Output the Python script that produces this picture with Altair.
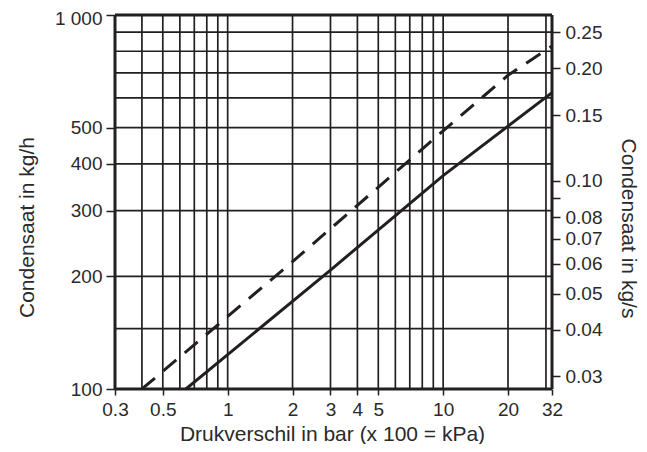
import altair as alt
import pandas as pd

# ---- data ----
grid_x = [0.4, 0.5, 0.6, 0.7, 0.8, 0.9, 1, 2, 3, 4, 5, 6, 7, 8, 9, 10, 20, 30]
grid_y = [145, 200, 300, 400, 500, 600, 700, 800, 900]
frame_x = [0.3, 32]
frame_y = [100, 1000]
x_ticks = [0.3, 0.5, 1, 2, 3, 4, 5, 10, 20, 32]
y_ticks = [100, 200, 300, 400, 500, 1000]
kgs_ticks = [0.03, 0.04, 0.05, 0.06, 0.07, 0.08, 0.09, 0.10, 0.15, 0.20, 0.25]

solid_x = [0.64, 3, 10, 32]
solid_y = [100, 208, 372, 620]
dashed_x = [0.4, 2, 10, 20, 32]
dashed_y = [100, 219, 490, 690, 826]

INK = "#231f20"
TXT = "#2a2a2a"
FONT = "Liberation Sans"
LBL = 19

x_scale = alt.Scale(type="log", domain=[0.3, 32], nice=False)
y_scale = alt.Scale(type="log", domain=[100, 1000], nice=False)
y2_scale = alt.Scale(type="log", domain=[100 / 3600, 1000 / 3600], nice=False)

x_axis = alt.Axis(
    values=x_ticks, format="~g", grid=False, domain=False,
    tickSize=6, tickWidth=1.5, tickColor=INK,
    labelFontSize=LBL, labelFont=FONT, labelColor=TXT, labelPadding=5,
    labelOverlap=False, labelFlush=False,
    title="Drukverschil in bar (x 100 = kPa)", titleFont=FONT, titleFontSize=21,
    titleFontWeight="normal", titleColor=TXT, titleX=217, titleY=51,
    titleAlign="center", titleBaseline="alphabetic",
)
y_axis = alt.Axis(
    orient="left", values=y_ticks,
    labelExpr="datum.value == 1000 ? '1 000' : format(datum.value, 'd')",
    labelOffset={"condition": {"test": "datum.value == 1000", "value": 3}, "value": 0},
    grid=False, domain=False, tickSize=9, tickWidth=1.5, tickColor=INK,
    labelFontSize=LBL, labelFont=FONT, labelColor=TXT, labelPadding=4,
    labelOverlap=False, labelFlush=False,
    title="Condensaat in kg/h", titleFont=FONT, titleFontSize=21,
    titleFontWeight="normal", titleColor=TXT, titleAngle=-90,
    titleX=-82, titleY=212, titleAlign="center", titleBaseline="alphabetic",
)
y2_axis = alt.Axis(
    orient="right", values=kgs_ticks,
    labelExpr="abs(datum.value - 0.09) < 1e-9 ? '' : format(datum.value, '.2f')",
    grid=False, domain=False, tickSize=8, tickWidth=1.5, tickColor=INK,
    labelFontSize=LBL, labelFont=FONT, labelColor=TXT, labelPadding=5,
    labelOverlap=False, labelFlush=False,
    title="Condensaat in kg/s", titleFont=FONT, titleFontSize=21,
    titleFontWeight="normal", titleColor=TXT, titleAngle=90,
    titleX=69, titleY=213, titleAlign="center", titleBaseline="alphabetic",
)

vgrid = alt.Chart(pd.DataFrame({"x": grid_x})).mark_rule(
    color=INK, strokeWidth=1.7
).encode(x=alt.X("x:Q", scale=x_scale, axis=x_axis))

hgrid = alt.Chart(pd.DataFrame({"y": grid_y})).mark_rule(
    color=INK, strokeWidth=1.7
).encode(y=alt.Y("y:Q", scale=y_scale, axis=y_axis))

vframe = alt.Chart(pd.DataFrame({"x": frame_x})).mark_rule(
    color=INK, strokeWidth=3
).encode(x=alt.X("x:Q", scale=x_scale, axis=x_axis))

hframe = alt.Chart(pd.DataFrame({"y": frame_y})).mark_rule(
    color=INK, strokeWidth=3
).encode(y=alt.Y("y:Q", scale=y_scale, axis=y_axis))

solid = alt.Chart(pd.DataFrame({"x": solid_x, "y": solid_y})).mark_line(
    color=INK, strokeWidth=3, clip=True
).encode(
    x=alt.X("x:Q", scale=x_scale, axis=x_axis),
    y=alt.Y("y:Q", scale=y_scale, axis=y_axis),
)
dashed = alt.Chart(pd.DataFrame({"x": dashed_x, "y": dashed_y})).mark_line(
    color=INK, strokeWidth=3, strokeDash=[17, 11], clip=True
).encode(
    x=alt.X("x:Q", scale=x_scale, axis=x_axis),
    y=alt.Y("y:Q", scale=y_scale, axis=y_axis),
)

main = alt.layer(vgrid, hgrid, solid, dashed, vframe, hframe)

right = alt.Chart(pd.DataFrame({"v": [kgs_ticks[0], kgs_ticks[-1]]})).mark_rule(
    opacity=0
).encode(y=alt.Y("v:Q", scale=y2_scale, axis=y2_axis))

chart = alt.layer(main, right).resolve_scale(y="independent").properties(
    width=437, height=374,
    autosize=alt.AutoSizeParams(type="none"),
    padding={"left": 107, "top": 7, "right": 87, "bottom": 55},
).configure_view(stroke=None).configure(background="white")

chart.save("out.html", embed_options={"renderer": "svg", "actions": False})
